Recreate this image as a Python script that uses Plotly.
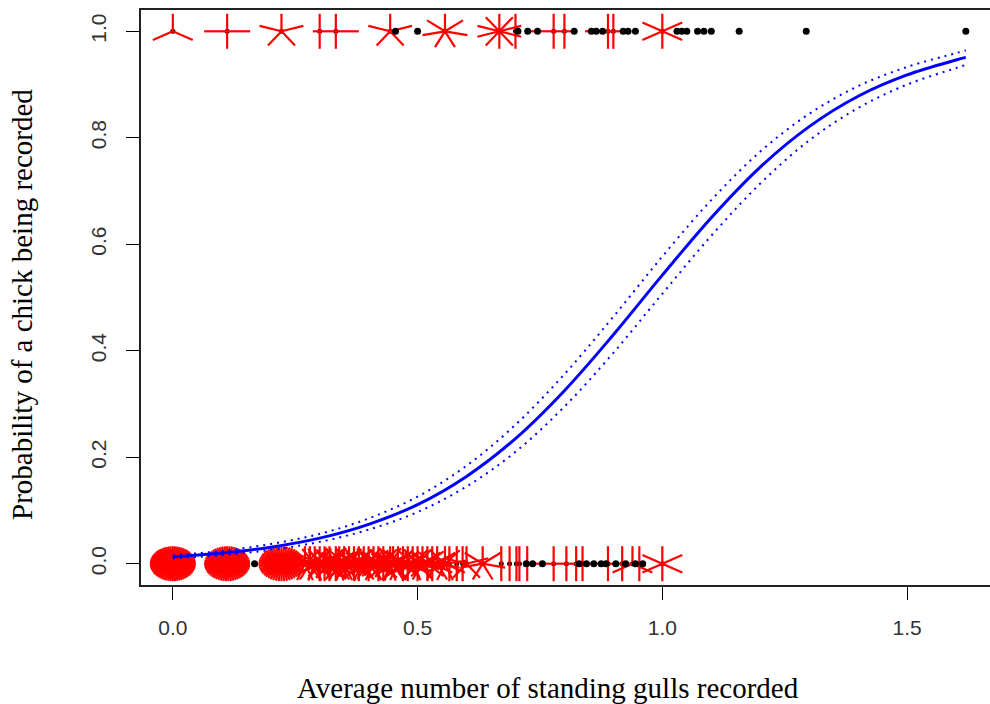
import math
import plotly.graph_objects as go

# ---- data -------------------------------------------------------------
# observations recorded as 1 (chick seen): x value and number of tied observations
top_x = [0.0, 0.111, 0.222, 0.30, 0.333, 0.444, 0.455, 0.50, 0.556, 0.667,
         0.70, 0.705, 0.725, 0.745, 0.778, 0.80, 0.82, 0.855, 0.865, 0.878,
         0.889, 0.90, 0.92, 0.93, 0.945, 1.0, 1.03, 1.04, 1.05, 1.072,
         1.085, 1.10, 1.157, 1.294, 1.62]
top_n = [3, 4, 5, 2, 4, 5, 1, 1, 7, 10,
         2, 1, 1, 1, 4, 2, 1, 1, 1, 1,
         4, 2, 1, 1, 1, 6, 1, 1, 1, 1,
         1, 1, 1, 1, 1]

# observations recorded as 0 (no chick seen)
bottom_x = [0.0, 0.111, 0.167, 0.222,
            0.27, 0.28, 0.29, 0.30, 0.31, 0.32, 0.333, 0.34, 0.35, 0.36,
            0.37, 0.38, 0.39, 0.40, 0.41, 0.42, 0.43, 0.444, 0.45, 0.46,
            0.47, 0.48, 0.49, 0.50, 0.51, 0.52, 0.53, 0.54, 0.556,
            0.565, 0.58, 0.592, 0.60, 0.633, 0.671, 0.688, 0.702, 0.708, 0.724,
            0.722, 0.735, 0.755, 0.778, 0.804, 0.824, 0.837,
            0.83, 0.845, 0.86, 0.875, 0.885, 0.889, 0.918, 0.939, 0.953,
            0.905, 0.925, 0.945, 0.96, 1.0]
bottom_n = [60, 55, 1, 50,
            9, 7, 11, 12, 8, 10, 14, 7, 9, 11,
            8, 10, 7, 12, 9, 8, 10, 13, 7, 9,
            8, 6, 9, 10, 7, 8, 6, 7, 9,
            2, 2, 2, 5, 7, 2, 2, 2, 2, 2,
            1, 1, 1, 4, 2, 2, 2,
            1, 1, 1, 1, 1, 4, 2, 3, 2,
            1, 1, 1, 1, 6]

# fitted logistic curve and its confidence limits
fit_x = [0.0, 0.1, 0.2, 0.3, 0.4, 0.5, 0.6, 0.7, 0.8, 0.9,
         1.0, 1.1, 1.2, 1.3, 1.4, 1.5, 1.6, 1.62]
fit_p = [0.013, 0.020, 0.031, 0.048, 0.074, 0.111, 0.164, 0.235, 0.325, 0.430,
         0.542, 0.650, 0.745, 0.821, 0.878, 0.918, 0.946, 0.951]
fit_hi = [0.016, 0.024, 0.037, 0.056, 0.085, 0.126, 0.184, 0.261, 0.356, 0.464,
          0.577, 0.683, 0.774, 0.845, 0.897, 0.933, 0.959, 0.964]
fit_lo = [0.010, 0.016, 0.026, 0.041, 0.064, 0.097, 0.145, 0.210, 0.295, 0.396,
          0.507, 0.616, 0.714, 0.795, 0.856, 0.900, 0.931, 0.937]

x_ticks = [0.0, 0.5, 1.0, 1.5]
x_tick_text = ["0.0", "0.5", "1.0", "1.5"]
y_ticks = [0.0, 0.2, 0.4, 0.6, 0.8, 1.0]
y_tick_text = ["0.0", "0.2", "0.4", "0.6", "0.8", "1.0"]

# ---- geometry ---------------------------------------------------------
W, H = 990, 704
M_L, M_R, M_T, M_B = 141, 0, 10, 119
X_RANGE = [-0.065, 1.6694]
Y_RANGE = [-0.04, 1.04]
px_per_x = (W - M_L - M_R) / (X_RANGE[1] - X_RANGE[0])
px_per_y = (H - M_T - M_B) / (Y_RANGE[1] - Y_RANGE[0])
PETAL_X = 23 / px_per_x      # petal length in data units
PETAL_Y = 17.5 / px_per_y


def sunflower_petals(xs, ns, y):
    """Segments radiating from each tied point, one per observation."""
    px, py = [], []
    for x, n in zip(xs, ns):
        if n < 2:
            continue
        for k in range(1, n + 1):
            a = 2 * math.pi * k / n
            px += [x, x + PETAL_X * math.sin(a), None]
            py += [y, y + PETAL_Y * math.cos(a), None]
    return px, py


fig = go.Figure()
rows = [(top_x, top_n, 1.0), (bottom_x, bottom_n, 0.0)]

# small black centres of tied points, drawn beneath their petals
for xs, ns, yv in rows:
    mx = [x for x, n in zip(xs, ns) if n > 1]
    fig.add_trace(go.Scatter(x=mx, y=[yv] * len(mx), mode="markers",
                             marker=dict(color="black", size=5),
                             showlegend=False))

# red petals
for xs, ns, yv in rows:
    px, py = sunflower_petals(xs, ns, yv)
    fig.add_trace(go.Scatter(x=px, y=py, mode="lines",
                             line=dict(color="#ff0000", width=2.2),
                             hoverinfo="skip", showlegend=False))

# single observations
for xs, ns, yv in rows:
    sx = [x for x, n in zip(xs, ns) if n == 1]
    fig.add_trace(go.Scatter(x=sx, y=[yv] * len(sx), mode="markers",
                             marker=dict(color="black", size=7),
                             showlegend=False))

# confidence limits (dotted) and fitted curve
for band in (fit_hi, fit_lo):
    fig.add_trace(go.Scatter(x=fit_x, y=band, mode="lines",
                             line=dict(color="#0000ff", width=2, dash="2px,5px",
                                       shape="spline"),
                             showlegend=False))
fig.add_trace(go.Scatter(x=fit_x, y=fit_p, mode="lines",
                         line=dict(color="#0000ff", width=3, shape="spline"),
                         showlegend=False))

tick_font = dict(family="Liberation Sans, Arial, sans-serif", size=21, color="#333333")
title_font = dict(family="Liberation Serif, Times New Roman, serif", size=29, color="black")

fig.update_layout(
    width=W, height=H,
    margin=dict(l=M_L, r=M_R, t=M_T, b=M_B, pad=0),
    plot_bgcolor="white", paper_bgcolor="white",
    xaxis=dict(range=X_RANGE, tickvals=x_ticks, ticktext=x_tick_text,
               ticks="outside", ticklen=13, tickwidth=1.2, tickcolor="black",
               showline=True, linecolor="#222222", linewidth=1.5, mirror=True,
               showgrid=False, zeroline=False, tickfont=tick_font,
               ticklabelstandoff=10),
    yaxis=dict(range=Y_RANGE, tickvals=y_ticks, ticktext=y_tick_text,
               ticks="outside", ticklen=13, tickwidth=1.2, tickcolor="black",
               showline=True, linecolor="#222222", linewidth=1.5,
               showgrid=False, zeroline=False, tickfont=tick_font,
               tickangle=-90, ticklabelstandoff=12),
    annotations=[
        dict(text="Average number of standing gulls recorded",
             xref="paper", yref="paper", x=(548 - M_L) / (W - M_L - M_R), y=0,
             xanchor="center", yanchor="middle", yshift=-(688 - (H - M_B)),
             showarrow=False, font=title_font),
        dict(text="Probability of a chick being recorded",
             xref="paper", yref="paper", x=0, y=1 - (305 - M_T) / (H - M_T - M_B),
             xanchor="center", yanchor="middle", xshift=-(M_L - 22),
             textangle=-90, showarrow=False, font=title_font),
    ],
)

fig.write_html("out.html")
